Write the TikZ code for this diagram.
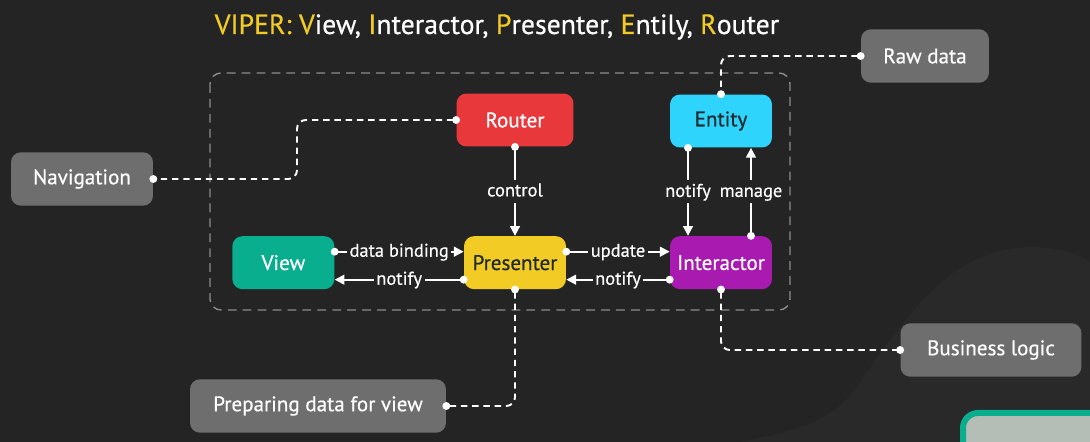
\documentclass[tikz,border=0pt]{standalone}
\usepackage{fontspec}
\setmainfont{PT Sans}[FakeBold=0.5]
\usetikzlibrary{
  positioning,
  arrows.meta
}
\usepackage{xcolor}
\definecolor{bgdark}{HTML}{242424}
\definecolor{bglight}{HTML}{292929}
\definecolor{viperyellow}{HTML}{F2CB25}
\definecolor{routerred}{HTML}{E8383B}
\definecolor{entitycyan}{HTML}{2ED4FC}
\definecolor{viewteal}{HTML}{08AE8E}
\definecolor{interpurple}{HTML}{A81AB0}
\definecolor{notegray}{HTML}{6D6E6D}
\definecolor{boxgray}{HTML}{8C8C8C}
\definecolor{darktext}{HTML}{1F2A30}
\definecolor{photogray}{HTML}{B4BEB6}
\tikzstyle{flow}      = [white, line width=1.1pt, shorten <=-2.2pt, {Circle[length=4.4pt]}-{Triangle[length=5.5pt,width=5.5pt]}]
\tikzstyle{link}      = [white, line width=1.1pt, dash pattern=on 3.6pt off 2.8pt, rounded corners=5pt, shorten <=-2.2pt, shorten >=-2.2pt, {Circle[length=4.4pt]}-{Circle[length=4.4pt]}]

\begin{document}
\begin{tikzpicture}[
x=0.02cm, y=-0.02cm,
partnode/.style={rectangle, rounded corners=0.2cm, minimum width=2.04cm, minimum height=1.06cm, font=\fontsize{12}{14}\selectfont},
notenode/.style={rectangle, rounded corners=0.2cm, fill=notegray, text=white, minimum height=1.07cm, font=\fontsize{12}{14}\selectfont},
flowlabel/.style={fill=bgdark, text=white, inner sep=1.5pt, text height=1.6ex, text depth=0.45ex, font=\fontsize{10.5}{12}\selectfont},
]
\useasboundingbox (0,0) rectangle (1090,442);
\fill[bgdark] (0,0) rectangle (1090,442);
\fill[bglight] (740,442) .. controls (800,430) and (830,420) .. (850,395)
  .. controls (900,330) and (940,250) .. (1030,247)
  .. controls (1060,247) and (1080,255) .. (1090,262) -- (1090,442) -- cycle;
\draw[viewteal, line width=0.12cm, fill=photogray, rounded corners=0.3cm] (963,413) rectangle (1110,470);

%Title
\node (title) at (497,27) {\fontsize{15.8}{18}\selectfont\color{viperyellow}VIPER: V\color{white}iew, \color{viperyellow}I\color{white}nteractor, \color{viperyellow}P\color{white}resenter, \color{viperyellow}E\color{white}ntily, \color{viperyellow}R\color{white}outer};

%Frame
\draw[boxgray, line width=0.8pt, dash pattern=on 5pt off 3.5pt, rounded corners=0.22cm] (210,73) rectangle (790,310);

%Nodes
\node[partnode, fill=routerred, text=white, minimum width=2.34cm] (router)     at (515,120) {Router};
\node[partnode, fill=entitycyan, text=darktext]                   (entity)     at (721,121) {Entity};
\node[partnode, fill=viperyellow, text=darktext]                  (presenter)  [below=1.78cm of router] {Presenter};
\node[partnode, fill=interpurple, text=white]                     (interactor) [below=1.76cm of entity] {Interactor};
\node[partnode, fill=viewteal, text=white]                        (view)       [left=2.58cm of presenter] {View};

\node[notenode, minimum width=2.84cm]  (navigation) at (82,179)  {Navigation};
\node[notenode, minimum width=2.56cm]  (rawdata)    at (925,56)  {Raw data};
\node[notenode, minimum width=3.62cm]  (business)   at (991,350) {Business logic};
\node[notenode, minimum width=5.12cm]  (preparing)  at (318,406) {Preparing data for view};

%Lines
\draw[flow] (router.south) -- node[flowlabel] {control} (presenter.north);
\draw[flow] ([xshift=-0.66cm]entity.south) -- node[flowlabel] {notify} ([xshift=-0.66cm]interactor.north);
\draw[flow] ([xshift=0.6cm]interactor.north) -- node[flowlabel] {manage} ([xshift=0.6cm]entity.south);
\draw[flow] ([yshift=0.22cm]view.east) -- node[flowlabel] {data binding} ([yshift=0.22cm]presenter.west);
\draw[flow] ([yshift=-0.34cm]presenter.west) -- node[flowlabel] {notify} ([yshift=-0.34cm]view.east);
\draw[flow] ([yshift=0.22cm]presenter.east) -- node[flowlabel] {update} ([yshift=0.22cm]interactor.west);
\draw[flow] ([yshift=-0.34cm]interactor.west) -- node[flowlabel] {notify} ([yshift=-0.34cm]presenter.east);

\draw[link] (router.west) -- (297,120) -- (297,179) -- (navigation.east);
\draw[link] (rawdata.west) -| (entity.north);
\draw[link] (presenter.south) |- (preparing.east);
\draw[link] (interactor.south) |- (business.west);
\end{tikzpicture}
\end{document}
